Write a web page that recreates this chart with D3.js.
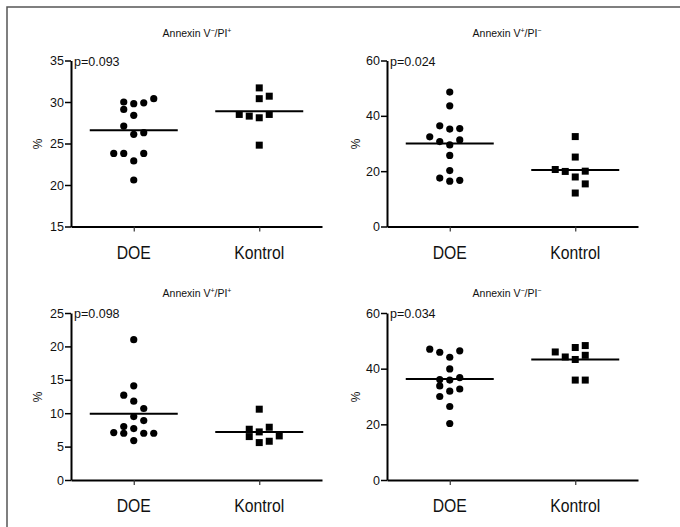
<!DOCTYPE html>
<html>
<head>
<meta charset="utf-8">
<script src="https://cdn.jsdelivr.net/npm/d3@7"></script>
<style>
  html, body { margin: 0; padding: 0; background: #fff; }
  svg { display: block; font-family: "Liberation Sans", Arial, Helvetica, sans-serif; }
</style>
</head>
<body>
<svg id="chart" width="680" height="527"></svg>
<script>
// ---------- data ----------
const categories = ["DOE", "Kontrol"];
const panelTitles = [
  ["Annexin V", "\u2212", "/PI", "+"],
  ["Annexin V", "+", "/PI", "\u2212"],
  ["Annexin V", "+", "/PI", "+"],
  ["Annexin V", "\u2212", "/PI", "\u2212"]
];
const pValues = ["p=0.093", "p=0.024", "p=0.098", "p=0.034"];
const yDomains = [[15, 35], [0, 60], [0, 25], [0, 60]];
const yTicks = [[15, 20, 25, 30, 35], [0, 20, 40, 60], [0, 5, 10, 15, 20, 25], [0, 20, 40, 60]];

// Panel 1: Annexin V-/PI+
const p1Doe = [30.0, 29.8, 29.9, 30.4, 29.1, 28.4, 27.1, 26.1, 26.3, 23.8, 23.8, 23.8, 22.9, 20.6];
const p1DoeCol = [-1, 0, 1, 2, -1, 0, -1, 0, 1, -2, -1, 1, 0, 0];
const p1Kon = [31.7, 30.4, 30.7, 28.5, 28.3, 28.1, 28.5, 24.8];
const p1KonCol = [0, 0, 1, -2, -1, 0, 1, 0];
// Panel 2: Annexin V+/PI-
const p2Doe = [48.6, 43.6, 36.4, 35.2, 35.4, 32.4, 30.7, 31.3, 29.5, 25.7, 20.2, 17.5, 16.4, 16.7];
const p2DoeCol = [0, 0, -1, 0, 1, -2, -1, 1, 0, 0, 0, -1, 0, 1];
const p2Kon = [32.5, 25.1, 20.6, 19.9, 20.0, 17.9, 15.4, 12.1];
const p2KonCol = [0, 0, -2, -1, 1, 0, 1, 0];
// Panel 3: Annexin V+/PI+
const p3Doe = [21.0, 14.1, 12.7, 11.8, 10.7, 9.5, 8.9, 8.0, 7.7, 7.1, 7.0, 7.0, 7.0, 5.9];
const p3DoeCol = [0, 0, -1, 0, 1, 0, 1, -1, 0, -2, -1, 1, 2, 0];
const p3Kon = [10.6, 7.6, 7.2, 7.9, 6.5, 6.6, 5.6, 5.8];
const p3KonCol = [0, -1, 0, 1, -1, 2, 0, 1];
// Panel 4: Annexin V-/PI-
const p4Doe = [47.0, 45.9, 46.4, 44.1, 39.9, 36.1, 35.9, 36.8, 33.8, 31.9, 32.7, 30.0, 26.4, 20.3];
const p4DoeCol = [-2, -1, 1, 0, 0, -1, 0, 1, -1, 0, 1, -1, 0, 0];
const p4Kon = [46.0, 44.2, 47.6, 48.3, 43.3, 44.8, 35.9, 35.9];
const p4KonCol = [-2, -1, 0, 1, 0, 1, 0, 1];

// group means (horizontal lines)
const doeMeans = [26.6, 30.0, 9.9, 36.3];
const konMeans = [28.9, 20.4, 7.2, 43.3];

const doeSets = [p1Doe, p2Doe, p3Doe, p4Doe];
const doeCols = [p1DoeCol, p2DoeCol, p3DoeCol, p4DoeCol];
const konSets = [p1Kon, p2Kon, p3Kon, p4Kon];
const konCols = [p1KonCol, p2KonCol, p3KonCol, p4KonCol];

// ---------- layout ----------
const svg = d3.select("#chart");
const panelW = 251;
const panelLeft = [71, 387, 71, 387];
const panelTop = [60.5, 60.5, 313, 313];
const panelBottom = [226.5, 226.5, 480, 480];
const titleX = [197, 507, 197, 507];
const titleY = [37, 37, 297, 297];
const colStep = 10;
const halfLine = 44;

// outer frame (partial, as cropped in the source)
svg.append("path")
  .attr("d", "M7,527 L7,7 L680,7")
  .attr("fill", "none").attr("stroke", "#555").attr("stroke-width", 1.5);

for (let i = 0; i < 4; i++) {
  const g = svg.append("g").attr("transform", `translate(${panelLeft[i]},0)`);
  const x = d3.scalePoint().domain(categories).range([0, panelW]).padding(0.5);
  const y = d3.scaleLinear().domain(yDomains[i]).range([panelBottom[i], panelTop[i]]);

  // y axis
  const ya = g.append("g")
    .call(d3.axisLeft(y).tickValues(yTicks[i]).tickSize(6).tickPadding(1).tickSizeOuter(0));
  ya.select(".domain").attr("stroke-width", 2);
  ya.selectAll(".tick line").attr("stroke-width", 1.5);
  ya.selectAll(".tick text").attr("font-size", 12.5).attr("fill", "#111")
    .attr("font-family", "'Liberation Sans', Arial, sans-serif");

  // x axis
  const xa = g.append("g").attr("transform", `translate(0,${panelBottom[i]})`)
    .call(d3.axisBottom(x).tickSize(5).tickSizeOuter(0).tickFormat(""));
  xa.select(".domain").attr("stroke-width", 2);
  xa.selectAll(".tick line").attr("stroke-width", 1.2).attr("stroke", "#333");

  // category labels
  categories.forEach(c => {
    g.append("text")
      .attr("transform", `translate(${x(c)},${panelBottom[i] + 32}) scale(0.9,1)`)
      .attr("text-anchor", "middle")
      .attr("font-size", 17.5)
      .attr("fill", "#111")
      .text(c);
  });

  // y label
  g.append("text")
    .attr("transform", `translate(${i % 2 === 0 ? -33 : -31},${(panelTop[i] + panelBottom[i]) / 2 + 0.5}) rotate(-90)`)
    .attr("text-anchor", "middle")
    .attr("dy", "0.35em")
    .attr("font-size", 12)
    .attr("fill", "#111")
    .text("%");

  // p value
  g.append("text")
    .attr("x", 3)
    .attr("y", panelTop[i] + 5)
    .attr("font-size", 12.5)
    .attr("fill", "#111")
    .text(pValues[i]);

  // title
  const t = svg.append("text")
    .attr("x", titleX[i]).attr("y", titleY[i])
    .attr("text-anchor", "middle")
    .attr("font-size", 10.5)
    .attr("fill", "#111");
  const parts = panelTitles[i];
  t.append("tspan").text(parts[0]);
  t.append("tspan").attr("font-size", 7).attr("dy", -4).text(parts[1]);
  t.append("tspan").attr("dy", 4).text(parts[2]);
  t.append("tspan").attr("font-size", 7).attr("dy", -4).text(parts[3]);

  // mean lines
  [[categories[0], doeMeans[i]], [categories[1], konMeans[i]]].forEach(([c, m]) => {
    g.append("line")
      .attr("x1", x(c) - halfLine).attr("x2", x(c) + halfLine)
      .attr("y1", y(m)).attr("y2", y(m))
      .attr("stroke", "#000").attr("stroke-width", 2);
  });

  // DOE circles
  g.selectAll(".doe").data(doeSets[i].map((v, k) => ({ v, c: doeCols[i][k] })))
    .enter().append("circle")
    .attr("cx", d => x(categories[0]) + d.c * colStep)
    .attr("cy", d => y(d.v))
    .attr("r", 3.6)
    .attr("fill", "#000");

  // Kontrol squares
  const s = 7;
  g.selectAll(".kon").data(konSets[i].map((v, k) => ({ v, c: konCols[i][k] })))
    .enter().append("rect")
    .attr("x", d => x(categories[1]) + d.c * colStep - s / 2)
    .attr("y", d => y(d.v) - s / 2)
    .attr("width", s).attr("height", s)
    .attr("fill", "#000");
}
</script>
</body>
</html>
